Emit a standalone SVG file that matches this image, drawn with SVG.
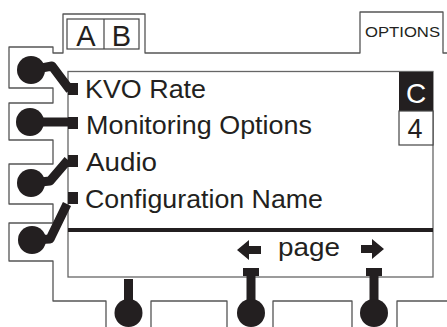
<svg xmlns="http://www.w3.org/2000/svg" width="447" height="327" viewBox="0 0 447 327">
<style>
.ol{fill:none;stroke:#555;stroke-width:1.3;stroke-linejoin:round}
.scr{fill:#fff;stroke:#666;stroke-width:1.3}
.ink{fill:#231f20}
.bar{fill:none;stroke:#231f20;stroke-width:9;stroke-linejoin:round;stroke-linecap:butt}
.t{font-family:"Liberation Sans",Arial,sans-serif;fill:#231f20}
</style>
<rect width="447" height="327" fill="#fff"/>
<g id="outline">
<path class="ol" d="M106,327 V301 H53 V261 H9 V223 H53 V204 H9 V164 H53 V140 H9 V103 H53 V88 H9 V47 H53 V53 H63 V14 H145 V53 H360 V12 H443 V53 H447"/>
<path class="ol" d="M151,327 V301 H227 V327 M273,327 V301 H352 V327 M397,327 V301 H447"/>
</g>
<g id="tab-ab">
<rect x="67" y="19" width="72" height="30" fill="#fff" stroke="#444" stroke-width="1.2"/>
<line x1="104" y1="19" x2="104" y2="49" stroke="#444" stroke-width="1.2"/>
<text class="t" x="86" y="46" font-size="29" text-anchor="middle">A</text>
<text class="t" x="121.5" y="46" font-size="29" text-anchor="middle">B</text>
</g>
<g id="tab-options">
<text class="t" x="365" y="37" font-size="14.5" textLength="75" lengthAdjust="spacingAndGlyphs">OPTIONS</text>
</g>
<g id="screen">
<rect class="scr" x="68" y="71.5" width="365" height="205.5"/>
<rect x="68" y="228" width="365" height="4" class="ink"/>
<rect x="399" y="72" width="34" height="39" class="ink"/>
<text x="416" y="103" font-size="28" text-anchor="middle" font-family="Liberation Sans, Arial, sans-serif" fill="#fff">C</text>
<rect x="399" y="111" width="34" height="34" fill="#fff" stroke="#444" stroke-width="1.2"/>
<text class="t" x="415" y="138" font-size="27" text-anchor="middle">4</text>
</g>
<g id="menu">
<rect class="ink" x="68" y="83" width="10" height="12"/>
<text class="t" x="85" y="97.5" font-size="25" textLength="121" lengthAdjust="spacingAndGlyphs">KVO Rate</text>
<rect class="ink" x="68" y="117" width="10" height="12"/>
<text class="t" x="86" y="133.5" font-size="25" textLength="226" lengthAdjust="spacingAndGlyphs">Monitoring Options</text>
<rect class="ink" x="68" y="155" width="10" height="12"/>
<text class="t" x="86" y="170.5" font-size="25" textLength="71" lengthAdjust="spacingAndGlyphs">Audio</text>
<rect class="ink" x="68" y="192" width="10" height="12"/>
<text class="t" x="85" y="207.5" font-size="25" textLength="238" lengthAdjust="spacingAndGlyphs">Configuration Name</text>
</g>
<g id="page-nav">
<path class="ink" d="M237,250 L249,240 L249,246 H261 V254 H249 V260 Z"/>
<text class="t" x="278" y="256" font-size="25" textLength="62" lengthAdjust="spacingAndGlyphs">page</text>
<path class="ink" d="M384,249 L372,239 L372,245 H361 V253 H372 V259 Z"/>
</g>
<g id="connectors">
<polyline class="bar" points="31,70 52,66 70,90"/>
<polyline class="bar" points="30,122 72,122"/>
<polyline class="bar" points="31,183 50,181 68,160"/>
<polyline class="bar" points="32,240 50,239 67,204"/>
<line class="bar" x1="128.5" y1="279" x2="128.5" y2="305"/>
<rect class="ink" x="243" y="268" width="16" height="8"/>
<line class="bar" x1="251" y1="276" x2="251" y2="305"/>
<rect class="ink" x="366" y="268" width="16" height="8"/>
<line class="bar" x1="374" y1="276" x2="374" y2="305"/>
</g>
<g id="knob-l1"><circle class="ink" cx="31" cy="70" r="14"/></g>
<g id="knob-l2"><circle class="ink" cx="30" cy="122" r="14"/></g>
<g id="knob-l3"><circle class="ink" cx="31" cy="183" r="14"/></g>
<g id="knob-l4"><circle class="ink" cx="32" cy="240" r="14"/></g>
<g id="knob-b1"><circle class="ink" cx="128.5" cy="313" r="14"/></g>
<g id="knob-b2"><circle class="ink" cx="251" cy="313" r="14"/></g>
<g id="knob-b3"><circle class="ink" cx="374" cy="313" r="14"/></g>
</svg>
